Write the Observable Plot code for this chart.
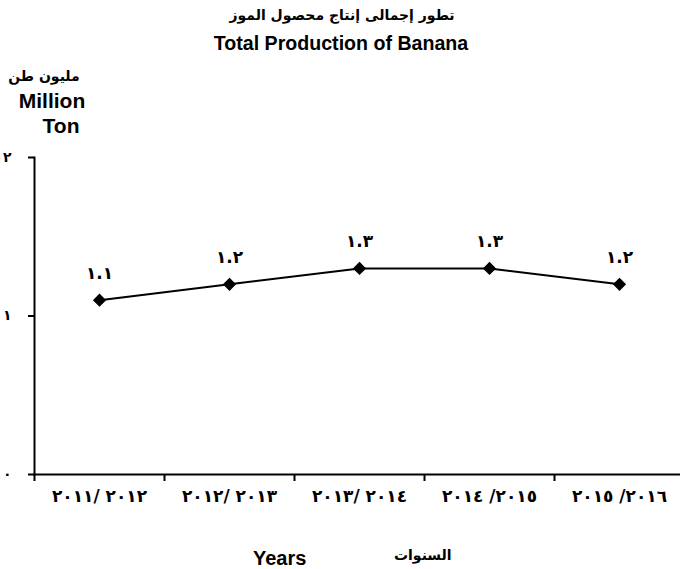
<!DOCTYPE html>
<html>
<head>
<meta charset="utf-8">
<script src="https://cdn.jsdelivr.net/npm/d3@7"></script>
<script src="https://cdn.jsdelivr.net/npm/@observablehq/plot@0.6"></script>
<style>
  body { margin: 0; background: #fff; }
  #wrap { position: relative; width: 680px; height: 569px; font-family: "Liberation Sans", "DejaVu Sans", Arial, sans-serif; font-weight: bold; color: #000; }
  .abs { position: absolute; white-space: nowrap; line-height: 1; }
  #plot { position: absolute; left: 0; top: 140px; }
</style>
</head>
<body>
<div id="wrap">
  <div class="abs" style="left:0;width:684px;top:8px;text-align:center;font-size:14px;font-family:'DejaVu Sans';" dir="rtl">تطور إجمالى إنتاج محصول الموز</div>
  <div class="abs" style="left:0;width:682px;top:34px;text-align:center;font-size:19.6px;">Total Production of Banana</div>
  <div class="abs" style="left:4px;top:69px;width:80px;text-align:center;font-size:14px;font-family:'DejaVu Sans';" dir="rtl">مليون طن</div>
  <div class="abs" style="left:12px;top:90px;width:80px;text-align:center;font-size:21px;">Million</div>
  <div class="abs" style="left:21px;top:115px;width:80px;text-align:center;font-size:21px;">Ton</div>
  <div class="abs" style="left:253px;top:548px;font-size:20px;">Years</div>
  <div class="abs" style="left:394px;top:548px;font-size:14px;font-family:'DejaVu Sans';" dir="rtl">السنوات</div>
  <div id="plot"></div>
</div>
<script>
const years = ["٢٠١١/ ٢٠١٢", "٢٠١٢/ ٢٠١٣", "٢٠١٣/ ٢٠١٤", "٢٠١٤ /٢٠١٥", "٢٠١٥ /٢٠١٦"];
const values = [1.1, 1.2, 1.3, 1.3, 1.2];
const yTicks = [0, 1, 2];

const arabicDigits = "٠١٢٣٤٥٦٧٨٩";
const toArabic = (n) => String(n).replace(/[0-9]/g, d => arabicDigits[+d]);
const ltr = (s) => "\u202D" + s + "\u202C";

const data = years.map((y, i) => ({year: y, value: values[i]}));

const chart = Plot.plot({
  width: 680,
  height: 374,
  marginTop: 17,
  marginBottom: 40,
  marginLeft: 34,
  marginRight: 0,
  style: {fontFamily: "'DejaVu Sans', sans-serif", fontWeight: "bold", fontSize: "12px", color: "#000", background: "#fff"},
  x: {type: "band", domain: years, range: [34, 684], padding: 0, label: null},
  y: {domain: [0, 2], label: null},
  marks: [
    Plot.axisY({ticks: yTicks, tickSize: 6, tickPadding: 17, strokeWidth: 2, tickFormat: toArabic, fontSize: 14, fontWeight: "bold", label: null}),
    Plot.axisX({tickSize: 7, strokeWidth: 2, dx: -65, tickFormat: () => "", label: null}),
    Plot.axisX({tickSize: 0, tickPadding: 15, fontSize: 17, fontWeight: "bold", tickFormat: ltr, label: null}),
    Plot.frame({anchor: "left", strokeWidth: 2}),
    Plot.frame({anchor: "bottom", strokeWidth: 2}),
    Plot.line(data, {x: "year", y: "value", stroke: "black", strokeWidth: 2}),
    Plot.dot(data, {x: "year", y: "value", symbol: "diamond2", fill: "black", stroke: "black", r: 5}),
    Plot.text(data, {x: "year", y: "value", text: d => toArabic(d.value.toFixed(1)), dy: -27, fontSize: 17, fontWeight: "bold"})
  ]
});
document.getElementById("plot").appendChild(chart);
</script>
</body>
</html>
